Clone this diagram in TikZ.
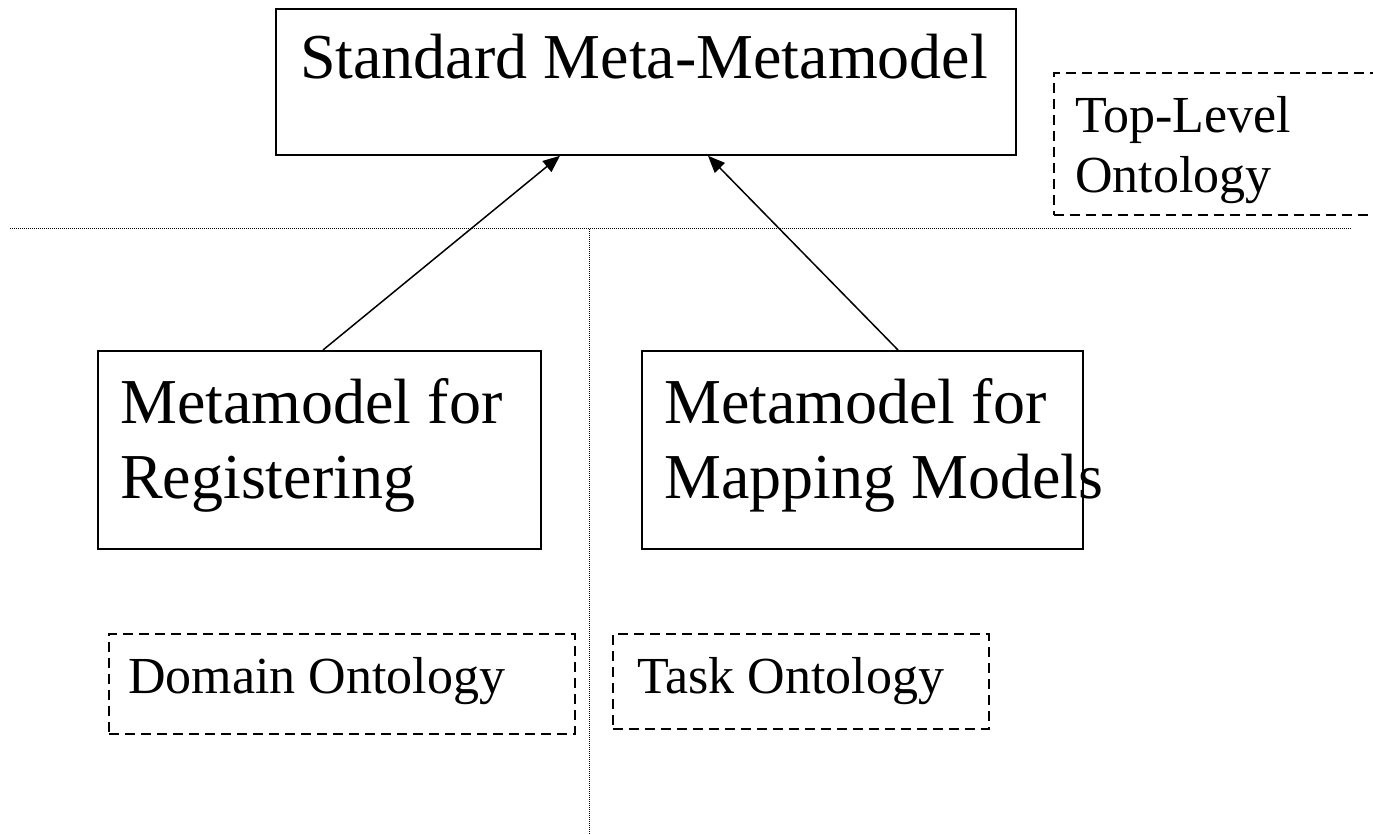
\documentclass[tikz,border=0pt]{standalone}
\usepackage{fontspec}
\setmainfont{Liberation Serif}
\usetikzlibrary{arrows.meta,calc}
\tikzset{
  x=1pt, y=-1pt,
  solidbox/.style={draw, line width=1.8pt, rectangle, inner sep=0pt, anchor=north west},
  dashbox/.style={draw, line width=1.8pt, dash pattern=on 10pt off 6pt, rectangle, inner sep=0pt, anchor=north west},
  divider/.style={line width=1pt, dash pattern=on 1pt off 1pt},
  bigtxt/.style={font=\fontsize{64}{75}\selectfont, inner sep=0pt, anchor=base west, align=left},
  smalltxt/.style={font=\fontsize{52}{60}\selectfont, inner sep=0pt, anchor=base west, align=left},
  arr/.style={line width=1.5pt, -{Triangle[length=17pt,width=14pt]}}
}
\begin{document}
\begin{tikzpicture}
\clip (0,0) rectangle (1373,834);
\fill[white] (0,0) rectangle (1373,834);

% level boundaries
\coordinate (hl) at (10,229);
\coordinate (hr) at (1352,229);
\coordinate (vt) at (589,229);
\coordinate (vb) at (589,834);
\draw[divider] (hl) -- (hr);
\draw[divider] (vt) -- (vb);

% boxes (multi-line text is placed by the baseline of its last line)
\node[solidbox, minimum width=740pt, minimum height=146pt] (std) at (275,8) {};
\node[bigtxt] (stdt) at (300,79) {Standard Meta-Metamodel};

\node[solidbox, minimum width=443pt, minimum height=198pt] (reg) at (97,350) {};
\node[bigtxt] (regt) at (120,498) {Metamodel for\\Registering};

\node[solidbox, minimum width=441pt, minimum height=198pt] (map) at (641,350) {};
\node[bigtxt] (mapt) at (664,498) {Metamodel for\\Mapping Models};

% ontology layers
\node[dashbox, minimum width=340pt, minimum height=142pt] (top) at (1053,72) {};
\node[smalltxt] (topt) at (1075,193) {Top-Level\\Ontology};

\node[dashbox, minimum width=466pt, minimum height=100pt] (dom) at (108,633) {};
\node[smalltxt] (domt) at (128,693) {Domain Ontology};

\node[dashbox, minimum width=376pt, minimum height=95pt] (task) at (612,633) {};
\node[smalltxt] (taskt) at (637,693) {Task Ontology};

% instance-of relations
\draw[arr] ([xshift=226pt]reg.north west) -- ([xshift=285pt]std.south west);
\draw[arr] ([xshift=257pt]map.north west) -- ([xshift=433pt]std.south west);
\end{tikzpicture}
\end{document}
